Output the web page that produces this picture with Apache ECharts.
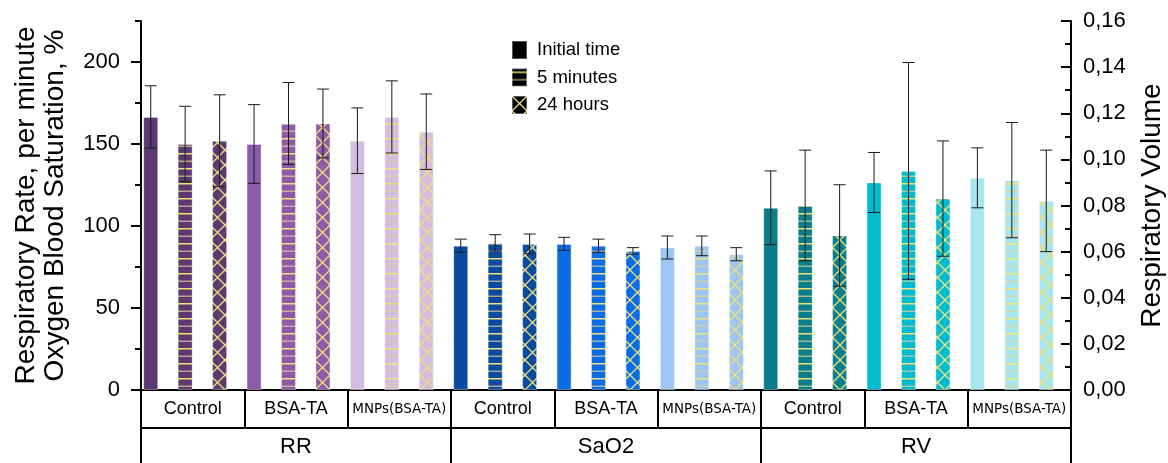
<!DOCTYPE html>
<html>
<head>
<meta charset="utf-8">
<title>Respiration parameters</title>
<style>
html, body { margin: 0; padding: 0; background: #fff; }
#main { width: 1168px; height: 463px; }
</style>
<script src="https://cdn.jsdelivr.net/npm/echarts@6/dist/echarts.min.js"></script>
</head>
<body>
<div id="main"></div>
<script>
var params = ['RR', 'SaO2', 'RV'];
var groups = ['Control', 'BSA-TA', 'MNPs(BSA-TA)'];
var times = ['Initial time', '5 minutes', '24 hours'];

// order inside each array: Control (initial, 5 min, 24 h), BSA-TA (...), MNPs(BSA-TA) (...)
var rrMean = [166.5, 150, 152, 150, 162.5, 162.5, 152, 166.5, 157.5];
var rrErr = [19, 23, 28, 24, 25, 21, 20, 22, 23];
var sao2Mean = [88, 89.7, 89.1, 89.1, 88, 84.8, 86.9, 87.9, 82.8];
var sao2Err = [4, 5, 6, 4, 4, 2, 7, 6, 4];
var rvMean = [0.079, 0.080, 0.067, 0.090, 0.095, 0.083, 0.092, 0.091, 0.082];
var rvErr = [0.016, 0.024, 0.022, 0.013, 0.047, 0.025, 0.013, 0.025, 0.022];

var leftTicks = [0, 50, 100, 150, 200];
var leftMinor = [25, 75, 125, 175, 225];
var rightTicks = [0, 0.02, 0.04, 0.06, 0.08, 0.10, 0.12, 0.14, 0.16];
var rightMinor = [0.01, 0.03, 0.05, 0.07, 0.09, 0.11, 0.13, 0.15];

var means = [rrMean, sao2Mean, rvMean];
var errs = [rrErr, sao2Err, rvErr];

// colour per parameter, per group
var palette = [
  ['#5b3a72', '#8c5ba9', '#d3bde0'],
  ['#0b4b9f', '#0a6de6', '#9dc6f2'],
  ['#0a7f8b', '#00bccf', '#a8e6ed']
];

function fillFor(bg, t) {
  if (t === 0) return bg;
  var c = document.createElement('canvas');
  c.width = 15; c.height = 15;
  var ctx = c.getContext('2d');
  ctx.fillStyle = bg;
  ctx.fillRect(0, 0, 15, 15);
  if (t === 1) {
    ctx.fillStyle = '#f2e27a';
    ctx.fillRect(0, 3, 15, 1.5);
    ctx.fillStyle = 'rgba(225,208,150,0.7)';
    ctx.fillRect(0, 10.5, 15, 1.5);
  } else {
    ctx.strokeStyle = '#eee07a';
    ctx.lineWidth = 1.3;
    ctx.beginPath();
    ctx.moveTo(0, 0); ctx.lineTo(15, 15);
    ctx.moveTo(15, 0); ctx.lineTo(0, 15);
    ctx.stroke();
  }
  return { image: c, repeat: 'repeat' };
}

var cats = [];
params.forEach(function (p) {
  groups.forEach(function (g) {
    times.forEach(function (t) { cats.push(p + ' ' + g + ' ' + t); });
  });
});

var series = [];
times.forEach(function (tName, t) {
  [0, 1].forEach(function (side) {
    var data = [];
    for (var p = 0; p < 3; p++) {
      for (var g = 0; g < 3; g++) {
        for (var tt = 0; tt < 3; tt++) {
          var onSide = (p === 2) === (side === 1);
          if (tt === t && onSide) {
            data.push({ value: means[p][g * 3 + t], itemStyle: { color: fillFor(palette[p][g], t) } });
          } else {
            data.push('-');
          }
        }
      }
    }
    series.push({
      type: 'bar',
      name: tName,
      yAxisIndex: side,
      stack: 'bars',
      barWidth: 15,
      barGap: '0%',
      itemStyle: { color: fillFor('#000', t), borderColor: 'rgba(255,255,255,0.35)', borderWidth: 1 },
      data: data
    });
  });
});

// empty column so the bars sit left of the slot centre
series.push({ type: 'bar', name: 'gap', barWidth: 15, barGap: '0%', silent: true, data: [] });

function errorSeries(side, pList) {
  var data = [];
  pList.forEach(function (p) {
    for (var i = 0; i < 9; i++) {
      data.push([p * 9 + i, means[p][i] - errs[p][i], means[p][i] + errs[p][i]]);
    }
  });
  return {
    type: 'custom',
    yAxisIndex: side,
    z: 5,
    silent: true,
    encode: { x: 0, y: [1, 2] },
    data: data,
    renderItem: function (prm, api) {
      var lo = api.coord([api.value(0), api.value(1)]);
      var hi = api.coord([api.value(0), api.value(2)]);
      var x = lo[0] - 7.5;
      var c = 6;
      var st = { stroke: '#1a1a1a', lineWidth: 1 };
      return {
        type: 'group',
        children: [
          { type: 'line', shape: { x1: x, y1: hi[1], x2: x, y2: lo[1] }, style: st },
          { type: 'line', shape: { x1: x - c, y1: hi[1], x2: x + c, y2: hi[1] }, style: st },
          { type: 'line', shape: { x1: x - c, y1: lo[1], x2: x + c, y2: lo[1] }, style: st }
        ]
      };
    }
  };
}
series.push(errorSeries(0, [0, 1]));
series.push(errorSeries(1, [2]));

var subCats = [];
params.forEach(function () {
  groups.forEach(function (g) {
    if (g === 'MNPs(BSA-TA)') {
      subCats.push({ value: g, textStyle: { fontSize: 13.5, fontFamily: 'DejaVu Sans', lineHeight: 20 } });
    } else {
      subCats.push(g);
    }
  });
});

var chart = echarts.init(document.getElementById('main'));
chart.setOption({
  animation: false,
  textStyle: { fontFamily: 'Liberation Sans', color: '#000' },
  grid: { left: 141, right: 97, top: 21, bottom: 73, containLabel: false, outerBoundsMode: 'none' },
  legend: {
    data: times,
    orient: 'vertical',
    left: 506,
    top: 35,
    itemWidth: 15,
    itemHeight: 18,
    itemGap: 7.5,
    icon: 'rect',
    selectedMode: false,
    textStyle: { fontSize: 18.5, color: '#000', padding: [0, 0, 0, 5] }
  },
  xAxis: [
    {
      type: 'category', data: cats, position: 'bottom',
      axisLine: { onZero: false, lineStyle: { color: '#000', width: 2 } },
      axisTick: { show: false }, axisLabel: { show: false }
    },
    {
      type: 'category', data: subCats, position: 'bottom', offset: 0,
      axisLine: { show: false, onZero: false },
      axisTick: { show: true, interval: 0, length: 38, lineStyle: { color: '#000', width: 2 } },
      axisLabel: { interval: 0, fontSize: 18, color: '#000', margin: 9, lineHeight: 20 }
    },
    {
      type: 'category', data: params, position: 'bottom', offset: 38,
      axisLine: { onZero: false, lineStyle: { color: '#000', width: 2 } },
      axisTick: { show: true, interval: 0, length: 36, lineStyle: { color: '#000', width: 2 } },
      axisLabel: { interval: 0, fontSize: 22, color: '#000', margin: 8 }
    }
  ],
  yAxis: [
    {
      type: 'value', position: 'left', min: 0, max: 225,
      name: 'Respiratory Rate, per minute\nOxygen Blood Saturation, %',
      nameLocation: 'middle', nameRotate: 90, nameGap: 71,
      nameTextStyle: { fontSize: 28, lineHeight: 29, color: '#000' },
      splitLine: { show: false },
      axisLine: { show: true, lineStyle: { color: '#000', width: 2 } },
      axisTick: { show: true, customValues: leftTicks, length: 10, lineStyle: { width: 2, color: '#000' } },
      axisLabel: { customValues: leftTicks, fontSize: 22, color: '#000', margin: 21 }
    },
    {
      type: 'value', position: 'right', min: 0, max: 0.16,
      name: 'Respiratory Volume',
      nameLocation: 'middle', nameRotate: 90, nameGap: 67,
      nameTextStyle: { fontSize: 28, color: '#000' },
      splitLine: { show: false },
      axisLine: { show: true, lineStyle: { color: '#000', width: 2 } },
      axisTick: { show: true, inside: true, customValues: rightTicks, length: 10, lineStyle: { width: 2, color: '#000' } },
      axisLabel: {
        customValues: rightTicks, fontSize: 22, color: '#000', margin: 12,
        formatter: function (v) { return v.toFixed(2).replace('.', ','); }
      }
    },
    {
      type: 'value', position: 'left', min: 0, max: 225,
      splitLine: { show: false }, axisLine: { show: false }, axisLabel: { show: false },
      axisTick: { show: true, customValues: leftMinor, length: 6, lineStyle: { width: 2, color: '#000' } }
    },
    {
      type: 'value', position: 'right', min: 0, max: 0.16,
      splitLine: { show: false }, axisLine: { show: false }, axisLabel: { show: false },
      axisTick: { show: true, inside: true, customValues: rightMinor, length: 6, lineStyle: { width: 2, color: '#000' } }
    }
  ],
  series: series
});
</script>
</body>
</html>
